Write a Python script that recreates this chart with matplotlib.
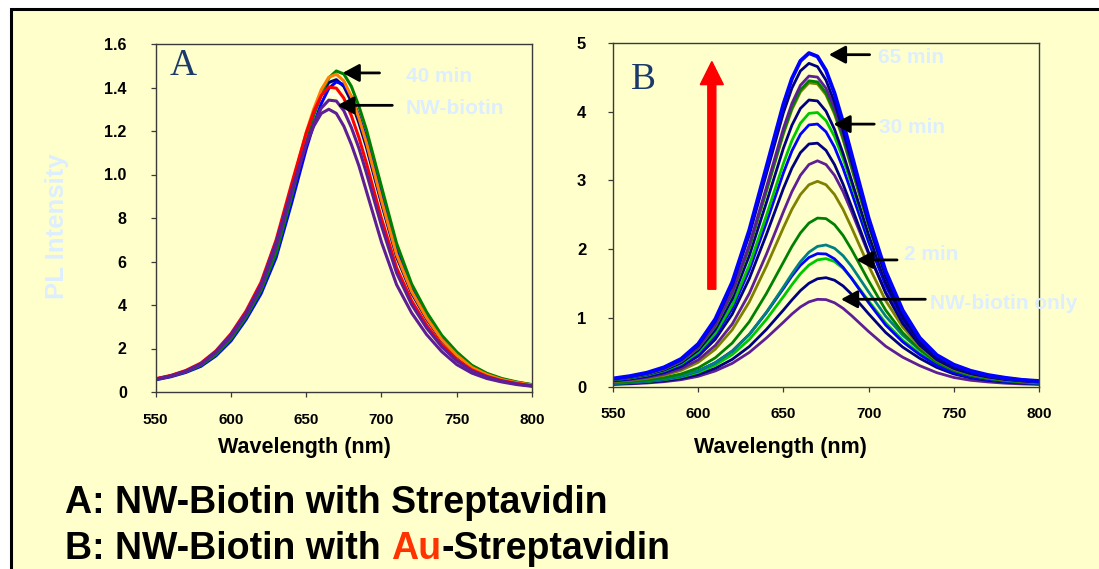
import matplotlib
matplotlib.use("Agg")
import matplotlib.pyplot as plt
from matplotlib.patches import Rectangle

plt.rcParams['font.family'] = ['Liberation Sans', 'DejaVu Sans']

# ---------------- data ----------------
wavelength = [550, 560, 570, 580, 590, 600, 610, 620, 630, 640, 650, 655, 660, 665, 670,
              675, 680, 685, 690, 700, 710, 720, 730, 740, 750, 760, 770, 780, 790, 800]

x_ticks = [550, 600, 650, 700, 750, 800]
a_ytick_pos = [0, 0.2, 0.4, 0.6, 0.8, 1.0, 1.2, 1.4, 1.6]
a_ytick_lab = ['0', '2', '4', '6', '8', '1.0', '1.2', '1.4', '1.6']
b_ytick_pos = [0, 1, 2, 3, 4, 5]
b_ytick_lab = ['0', '1', '2', '3', '4', '5']

# Panel A : NW-biotin + streptavidin
a_white = [.059, .075, .097, .130, .185, .262, .364, .494, .684, .930, 1.166, 1.261, 1.334, 1.372, 1.368,
           1.322, 1.243, 1.145, 1.029, .781, .560, .411, .301, .213, .146, .099, .070, .051, .038, .029]
a_navy = [.059, .074, .095, .127, .179, .254, .357, .484, .665, .919, 1.174, 1.279, 1.367, 1.423, 1.436,
          1.405, 1.335, 1.238, 1.126, .867, .622, .455, .335, .237, .166, .111, .078, .056, .042, .031]
a_blue = [.056, .070, .090, .118, .166, .235, .333, .452, .618, .861, 1.118, 1.230, 1.326, 1.396, 1.426,
          1.413, 1.357, 1.270, 1.165, .912, .661, .480, .355, .253, .178, .119, .083, .059, .044, .033]
a_green = [.058, .073, .093, .123, .172, .244, .344, .468, .639, .891, 1.157, 1.273, 1.372, 1.444, 1.476,
           1.462, 1.405, 1.314, 1.206, .944, .684, .497, .367, .261, .184, .123, .086, .062, .046, .034]
a_orange = [.060, .075, .097, .129, .183, .259, .363, .492, .677, .935, 1.194, 1.301, 1.390, 1.447, 1.461,
            1.430, 1.358, 1.260, 1.146, .882, .633, .463, .341, .241, .169, .113, .080, .057, .043, .032]
a_red = [.061, .076, .099, .133, .189, .268, .372, .505, .699, .950, 1.191, 1.289, 1.363, 1.402, 1.397,
         1.351, 1.270, 1.170, 1.052, .798, .572, .420, .307, .217, .149, .102, .072, .052, .039, .029]
a_purple2 = [.058, .073, .095, .127, .181, .256, .356, .483, .670, .910, 1.141, 1.234, 1.305, 1.342, 1.338,
             1.293, 1.216, 1.121, 1.007, .764, .548, .402, .294, .208, .143, .097, .069, .050, .037, .028]
a_purple1 = [.059, .074, .096, .130, .186, .264, .364, .494, .689, .923, 1.138, 1.222, 1.281, 1.300, 1.281,
             1.222, 1.138, 1.040, .923, .689, .494, .364, .264, .186, .126, .087, .062, .046, .034, .026]

# Panel B : NW-biotin + Au-streptavidin (bottom = NW-biotin only, top = 65 min)
b01 = [.032, .041, .054, .073, .102, .151, .229, .340, .499, .708, .938, 1.057, 1.160, 1.234, 1.271,
       1.267, 1.221, 1.140, 1.034, .803, .589, .429, .306, .204, .134, .093, .069, .051, .040, .032]
b02 = [.038, .049, .064, .086, .121, .177, .267, .398, .584, .833, 1.115, 1.262, 1.398, 1.505, 1.570,
       1.586, 1.549, 1.466, 1.346, 1.061, .789, .576, .413, .280, .185, .127, .092, .068, .052, .042]
b03 = [.045, .058, .075, .102, .142, .208, .314, .467, .687, .978, 1.310, 1.483, 1.643, 1.769, 1.845,
       1.863, 1.821, 1.722, 1.581, 1.247, .928, .677, .485, .329, .218, .149, .109, .080, .062, .049]
b04 = [.049, .062, .082, .111, .156, .230, .349, .519, .761, 1.078, 1.429, 1.611, 1.767, 1.880, 1.936,
       1.931, 1.860, 1.737, 1.576, 1.223, .897, .653, .466, .310, .205, .142, .105, .078, .060, .049]
b05 = [.050, .064, .083, .112, .157, .230, .347, .517, .760, 1.082, 1.450, 1.641, 1.818, 1.957, 2.041,
       2.062, 2.014, 1.906, 1.750, 1.379, 1.026, .749, .537, .364, .241, .165, .120, .089, .068, .054]
b06 = [.059, .075, .098, .132, .186, .274, .420, .636, .946, 1.355, 1.811, 2.040, 2.237, 2.381, 2.453,
       2.445, 2.357, 2.201, 1.996, 1.540, 1.114, .786, .543, .356, .235, .164, .121, .090, .070, .056]
b07 = [.073, .093, .123, .167, .238, .354, .545, .829, 1.234, 1.751, 2.313, 2.580, 2.796, 2.938, 2.988,
       2.938, 2.796, 2.580, 2.316, 1.757, 1.253, .867, .585, .381, .254, .179, .132, .099, .078, .063]
b08 = [.080, .102, .135, .184, .262, .390, .600, .912, 1.357, 1.926, 2.545, 2.838, 3.076, 3.232, 3.286,
       3.232, 3.075, 2.838, 2.547, 1.933, 1.378, .953, .644, .419, .280, .197, .146, .109, .085, .069]
b09 = [.088, .113, .150, .206, .295, .444, .689, 1.056, 1.572, 2.211, 2.884, 3.180, 3.405, 3.531, 3.543,
       3.438, 3.231, 2.947, 2.620, 1.951, 1.364, .920, .605, .392, .265, .188, .140, .106, .084, .068]
b10 = [.095, .122, .162, .222, .318, .479, .743, 1.138, 1.696, 2.384, 3.110, 3.430, 3.672, 3.808, 3.821,
       3.708, 3.485, 3.179, 2.826, 2.104, 1.471, .993, .653, .423, .286, .203, .151, .114, .090, .074]
b11 = [.099, .127, .169, .232, .332, .500, .776, 1.189, 1.770, 2.490, 3.247, 3.581, 3.834, 3.976, 3.989,
       3.871, 3.639, 3.319, 2.950, 2.197, 1.536, 1.036, .681, .441, .299, .212, .158, .119, .094, .077]
b12 = [.103, .133, .176, .243, .348, .530, .829, 1.277, 1.907, 2.676, 3.469, 3.804, 4.048, 4.171, 4.157,
       4.008, 3.743, 3.394, 3.000, 2.207, 1.518, 1.005, .649, .419, .286, .204, .152, .116, .092, .075]
b13 = [.109, .141, .186, .258, .369, .561, .878, 1.353, 2.021, 2.836, 3.676, 4.031, 4.289, 4.420, 4.405,
       4.246, 3.966, 3.596, 3.179, 2.338, 1.608, 1.064, .688, .444, .303, .216, .161, .123, .097, .079]
b14 = [.110, .142, .188, .259, .371, .565, .884, 1.362, 2.034, 2.855, 3.700, 4.058, 4.318, 4.450, 4.434,
       4.275, 3.993, 3.620, 3.201, 2.354, 1.619, 1.072, .692, .447, .305, .217, .162, .124, .098, .080]
b15 = [.111, .144, .191, .263, .377, .574, .898, 1.383, 2.066, 2.899, 3.758, 4.121, 4.385, 4.519, 4.504,
       4.342, 4.055, 3.676, 3.251, 2.391, 1.644, 1.088, .703, .454, .310, .221, .165, .126, .100, .081]
b16 = [.115, .149, .197, .274, .392, .602, .951, 1.475, 2.209, 3.094, 3.984, 4.344, 4.594, 4.704, 4.656,
       4.459, 4.138, 3.729, 3.278, 2.377, 1.605, 1.040, .660, .425, .294, .210, .158, .121, .096, .079]
b17 = [.119, .154, .204, .282, .404, .621, .981, 1.521, 2.279, 3.193, 4.110, 4.482, 4.740, 4.853, 4.804,
       4.600, 4.269, 3.847, 3.382, 2.453, 1.680, 1.110, .710, .460, .320, .230, .170, .130, .099, .082]

# ---------------- styles ----------------
BG = '#FFFFCC'
PALE = '#DDEEFF'
NAVY, BLUE, PURPLE = '#000080', '#0000FF', '#5E1E96'
GREEN, LGREEN, OLIVE, TEAL = '#008000', '#00C800', '#808000', '#008080'
SPINE = '#3A3A3A'

a_series = [(a_white, 'white', 1.4), (a_navy, NAVY, 2.2), (a_blue, BLUE, 2.2), (a_green, GREEN, 2.2),
            (a_orange, '#FF8000', 2.2), (a_red, '#FF0000', 2.2), (a_purple2, PURPLE, 2.2),
            (a_purple1, PURPLE, 2.2)]
b_series = [(b01, PURPLE), (b02, NAVY), (b03, LGREEN), (b04, BLUE), (b05, TEAL), (b06, GREEN),
            (b07, OLIVE), (b08, PURPLE), (b09, NAVY), (b10, BLUE), (b11, LGREEN), (b12, NAVY),
            (b13, OLIVE), (b14, GREEN), (b15, PURPLE), (b16, NAVY), (b17, BLUE)]

W, H = 1099, 569
fig = plt.figure(figsize=(W / 100, H / 100), dpi=100)
fig.patch.set_facecolor('white')
frame = Rectangle((11 / W, -0.2), 1.2, (H - 9) / H + 0.2, transform=fig.transFigure,
                  facecolor=BG, edgecolor='black', lw=2.2, zorder=-10)
fig.add_artist(frame)


def fx(px):
    return px / W


def fy(py):
    return 1 - py / H


axA = fig.add_axes([fx(155.7), fy(392), (532 - 155.7) / W, (392 - 44) / H])
axB = fig.add_axes([fx(613), fy(386.7), (1039 - 613) / W, (386.7 - 43) / H])

for vals, col, lw in a_series:
    axA.plot(wavelength, vals, color=col, lw=lw, solid_joinstyle='round')
for i, (vals, col) in enumerate(b_series):
    axB.plot(wavelength, vals, color=col, lw=2.8 if i == len(b_series) - 1 else 2.0,
             solid_joinstyle='round')

for ax, ytp, ytl, ylim, ypad, ysz, xpad in [(axA, a_ytick_pos, a_ytick_lab, (0, 1.6), 17.5, 11.5, 12),
                                            (axB, b_ytick_pos, b_ytick_lab, (0, 5), 16, 12, 11.5)]:
    ax.set_facecolor(BG)
    ax.set_xlim(550, 800)
    ax.set_ylim(*ylim)
    ax.set_xticks(x_ticks)
    ax.set_xticklabels([str(v) for v in x_ticks])
    ax.set_yticks(ytp)
    ax.set_yticklabels(ytl)
    for s in ax.spines.values():
        s.set_color(SPINE)
        s.set_linewidth(1.0)
    ax.tick_params(axis='both', direction='out', length=3.3, width=0.9, color=SPINE)
    ax.tick_params(axis='y', pad=ypad, labelsize=ysz)
    ax.tick_params(axis='x', pad=xpad, labelsize=11)
    for lbl in ax.get_xticklabels() + ax.get_yticklabels():
        lbl.set_fontweight('bold')

# arrows + labels
arrow_kw = dict(arrowstyle='-|>,head_length=0.5,head_width=0.27', color='black', lw=2.0,
                mutation_scale=20, shrinkA=0, shrinkB=0)
txt_kw = dict(color=PALE, fontsize=15, fontweight='bold', ha='left', va='center')

axA.annotate('', xy=(674.2, 1.467), xytext=(698.7, 1.467), arrowprops=arrow_kw)
axA.annotate('', xy=(670.7, 1.318), xytext=(707.2, 1.318), arrowprops=arrow_kw)
axA.text(716.4, 1.45, '40 min', **txt_kw)
axA.text(716.0, 1.304, 'NW-biotin', **txt_kw)

axB.annotate('', xy=(676.7, 4.83), xytext=(700.6, 4.83), arrowprops=arrow_kw)
axB.annotate('', xy=(679.4, 3.82), xytext=(703.3, 3.82), arrowprops=arrow_kw)
axB.annotate('', xy=(692.8, 1.844), xytext=(716.7, 1.844), arrowprops=arrow_kw)
axB.annotate('', xy=(683.8, 1.272), xytext=(733.3, 1.272), arrowprops=arrow_kw)
axB.text(705.7, 4.79, '65 min', **txt_kw)
axB.text(706.3, 3.77, '30 min', **txt_kw)
axB.text(721.0, 1.92, '2 min', **txt_kw)
axB.text(735.8, 1.21, 'NW-biotin only', **txt_kw)

axB.arrow(608.0, 1.418, 0, 4.73 - 1.418, width=4.7, head_width=13.5, head_length=0.335,
          length_includes_head=True, color='#FF0000', zorder=3)
axB.set_xlim(550, 800)
axB.set_ylim(0, 5)

# panel letters
letter_kw = dict(family=['Liberation Serif', 'DejaVu Serif'], fontsize=27, color='#1B3A6B',
                 ha='left', va='baseline')
fig.text(fx(170), fy(75), 'A', **letter_kw)
fig.text(fx(631), fy(89), 'B', **letter_kw)

# axis labels
lab_kw = dict(fontweight='bold', ha='center', va='center')
fig.text(fx(304), fy(447), 'Wavelength (nm)', color='black', fontsize=15.5, **lab_kw)
fig.text(fx(780), fy(447), 'Wavelength (nm)', color='black', fontsize=15.5, **lab_kw)
fig.text(fx(57), fy(226), 'PL Intensity', color=PALE, rotation=90, fontsize=18.5, **lab_kw)

# captions
cap_kw = dict(fontsize=27, fontweight='bold', va='baseline', ha='left')
fig.text(fx(65), fy(513), 'A: NW-Biotin with Streptavidin', color='black', **cap_kw)
r = fig.canvas.get_renderer()
t1 = fig.text(fx(65), fy(559), 'B: NW-Biotin with', color='black', **cap_kw)
probe_a = fig.text(0, 0, 'a a', **cap_kw)
probe_b = fig.text(0, 0, 'aa', **cap_kw)
space_w = probe_a.get_window_extent(r).width - probe_b.get_window_extent(r).width
probe_a.remove()
probe_b.remove()
x1 = t1.get_window_extent(r).x1 + space_w
t2 = fig.text(x1 / fig.bbox.width, fy(559), 'Au', color='#FF3300', **cap_kw)
x2 = t2.get_window_extent(r).x1
fig.text(x2 / fig.bbox.width, fy(559), '-Streptavidin', color='black', **cap_kw)

fig.savefig('out.png', dpi=100, facecolor=fig.get_facecolor())
